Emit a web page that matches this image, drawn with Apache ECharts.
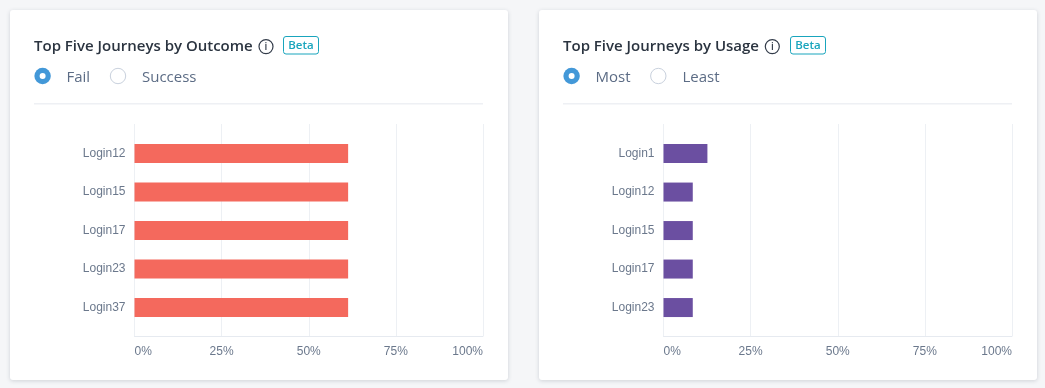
<!DOCTYPE html>
<html>
<head>
<meta charset="utf-8">
<style>html,body{margin:0;padding:0;background:#f5f6f8;overflow:hidden}#c{width:1045px;height:388px}</style>
<script src="https://cdn.jsdelivr.net/npm/echarts@6/dist/echarts.min.js"></script>
</head>
<body>
<div id="c"></div>
<script>
const outcomeCategories = ['Login12','Login15','Login17','Login23','Login37'];
const outcomeValues = [61.3,61.3,61.3,61.3,61.3];
const usageCategories = ['Login1','Login12','Login15','Login17','Login23'];
const usageValues = [12.6,8.4,8.4,8.4,8.4];
const xTicks = [0,25,50,75,100];

const chart = echarts.init(document.getElementById('c'), null, {renderer:'canvas'});
const SANS = '"Open Sans", sans-serif';
const AXIS_FONT = '"Liberation Sans", Arial, sans-serif';
const panels = [
  {gl:134.5, cats:outcomeCategories, vals:outcomeValues, color:'#f4695d', cardX:10, title:'Top Five Journeys by Outcome', tx:34, ix:266, bx:283, bw:35, r1:42.6, l1:'Fail', t1:66.5, r2:118, l2:'Success', t2:142},
  {gl:663.5, cats:usageCategories, vals:usageValues, color:'#6b4fa1', cardX:539, title:'Top Five Journeys by Usage', tx:563, ix:772.3, bx:790, bw:35, r1:571.6, l1:'Most', t1:595.5, r2:658.3, l2:'Least', t2:682.5}
];
const GW = 348.5, grid=[], xAxis=[], yAxis=[], series=[], graphic=[];
panels.forEach((p)=>{
  // card
  graphic.push({type:'rect',z:-10,shape:{x:p.cardX,y:10,width:498,height:370,r:3},style:{fill:'#fff',shadowBlur:4,shadowColor:'rgba(40,50,70,0.18)',shadowOffsetY:1}});
  graphic.push({type:'text',z:5,style:{x:p.tx,y:46.5,text:p.title,fill:'#2b3440',font:'600 15px '+SANS,textVerticalAlign:'middle'}});
  // info icon
  graphic.push({type:'circle',z:5,shape:{cx:p.ix,cy:46.6,r:7},style:{fill:'none',stroke:'#333c4a',lineWidth:1.2}});
  graphic.push({type:'text',z:5,style:{x:p.ix,y:47,text:'i',fill:'#333c4a',font:'600 10px '+SANS,textAlign:'center',textVerticalAlign:'middle'}});
  // beta badge
  graphic.push({type:'rect',z:5,shape:{x:p.bx+.5,y:36.5,width:p.bw,height:17.5,r:2.5},style:{fill:'#fff',stroke:'#19a5bd',lineWidth:1}});
  graphic.push({type:'text',z:6,style:{x:p.bx+p.bw/2+.5,y:45.7,text:'Beta',fill:'#19a5bd',font:'600 11.5px '+SANS,textAlign:'center',textVerticalAlign:'middle'}});
  // radios
  graphic.push({type:'circle',z:5,shape:{cx:p.r1,cy:76,r:8.2},style:{fill:'#4398d8'}});
  graphic.push({type:'circle',z:6,shape:{cx:p.r1,cy:76,r:3},style:{fill:'#fff'}});
  graphic.push({type:'text',z:5,style:{x:p.t1,y:78,text:p.l1,fill:'#5c6c85',font:'15px '+SANS,textVerticalAlign:'middle'}});
  graphic.push({type:'circle',z:5,shape:{cx:p.r2,cy:76,r:7.7},style:{fill:'#fff',stroke:'#c9d1dd',lineWidth:1}});
  graphic.push({type:'text',z:5,style:{x:p.t2,y:78,text:p.l2,fill:'#5c6c85',font:'15px '+SANS,textVerticalAlign:'middle'}});
  // divider
  graphic.push({type:'rect',z:5,shape:{x:p.tx,y:103,width:449,height:1.5},style:{fill:'#eef0f4'}});

  // outer grid: carries the percent axis and gridlines
  const outer = grid.length;
  grid.push({left:p.gl,width:GW,top:124,height:212});
  xAxis.push({type:'value',gridIndex:outer,min:0,max:100,interval:25,
    axisLine:{show:true,onZero:false,lineStyle:{color:'#e6eaf0',width:1}},axisTick:{show:false},
    splitLine:{show:true,lineStyle:{color:'#edf0f4',width:1}},
    axisLabel:{show:true,margin:10,color:'#6b788c',fontFamily:AXIS_FONT,fontSize:12,alignMinLabel:'left',alignMaxLabel:'right',
      customValues:xTicks,formatter:v=>v+'%'}});
  yAxis.push({type:'value',gridIndex:outer,show:false,min:0,max:1});
  series.push({type:'line',xAxisIndex:outer,yAxisIndex:outer,data:[],silent:true});

  // inner grid: the bars and category labels
  const inner = grid.length;
  grid.push({left:p.gl,width:GW,top:134.3,height:192.5});
  xAxis.push({type:'value',gridIndex:inner,min:0,max:100,show:false});
  yAxis.push({type:'category',gridIndex:inner,inverse:true,data:p.cats,
    axisLine:{show:false},axisTick:{show:false},splitLine:{show:false},
    axisLabel:{margin:9,color:'#6b788c',fontFamily:AXIS_FONT,fontSize:12,padding:[2,0,0,0]}});
  series.push({type:'bar',xAxisIndex:inner,yAxisIndex:inner,data:p.vals,barWidth:19,z:3,silent:true,animation:false,
    itemStyle:{color:p.color}});
});
chart.setOption({animation:false,backgroundColor:'#f5f6f8',grid,xAxis,yAxis,series,graphic:{elements:graphic}});
</script>
</body>
</html>
